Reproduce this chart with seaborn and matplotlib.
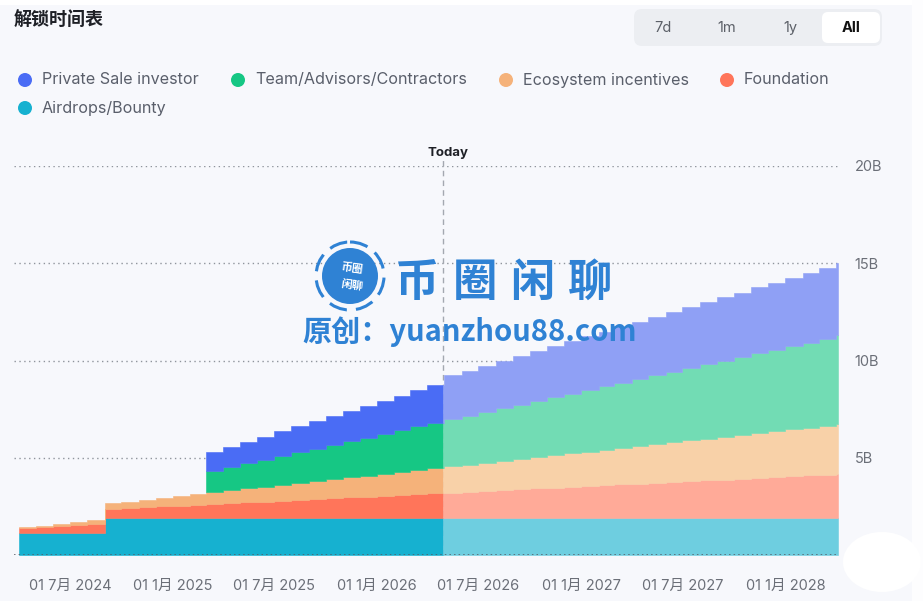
import numpy as np
import pandas as pd
import seaborn as sns
import matplotlib.pyplot as plt
import matplotlib.dates as mdates
from matplotlib.patches import Circle, Ellipse, FancyBboxPatch, Rectangle

# monthly unlock schedule (cumulative, billions), Apr 2024 .. Apr 2028
months = pd.date_range("2024-04-01", "2028-04-01", freq="MS")
today = pd.Timestamp("2026-04-28")
end_date = pd.Timestamp("2028-04-04")

airdrops = [1.12, 1.12, 1.12, 1.12, 1.12, 1.88, 1.88, 1.88, 1.88, 1.88,
            1.88, 1.88, 1.88, 1.88, 1.88, 1.88, 1.88, 1.88, 1.88, 1.88,
            1.88, 1.88, 1.88, 1.88, 1.88, 1.88, 1.88, 1.88, 1.88, 1.88,
            1.88, 1.88, 1.88, 1.88, 1.88, 1.88, 1.88, 1.88, 1.88, 1.88,
            1.88, 1.88, 1.88, 1.88, 1.88, 1.88, 1.88, 1.88, 1.88]
foundation = [0.28, 0.32, 0.36, 0.41, 0.45, 0.49, 0.53, 0.57, 0.62, 0.66,
              0.70, 0.74, 0.78, 0.83, 0.87, 0.91, 0.95, 0.99, 1.04, 1.08,
              1.12, 1.16, 1.20, 1.25, 1.29, 1.33, 1.37, 1.41, 1.46, 1.50,
              1.54, 1.58, 1.62, 1.67, 1.71, 1.75, 1.79, 1.83, 1.88, 1.92,
              1.96, 2.00, 2.04, 2.09, 2.13, 2.17, 2.21, 2.25, 2.30]
ecosystem = [0.02, 0.07, 0.13, 0.18, 0.23, 0.29, 0.34, 0.39, 0.44, 0.50,
             0.55, 0.60, 0.66, 0.71, 0.76, 0.82, 0.87, 0.92, 0.97, 1.03,
             1.08, 1.13, 1.19, 1.24, 1.29, 1.35, 1.40, 1.45, 1.50, 1.56,
             1.61, 1.66, 1.72, 1.77, 1.82, 1.88, 1.93, 1.98, 2.03, 2.09,
             2.14, 2.19, 2.25, 2.30, 2.35, 2.41, 2.46, 2.51, 2.56]
team = [0, 0, 0, 0, 0, 0, 0, 0, 0, 0,
        0, 1.12, 1.21, 1.31, 1.40, 1.49, 1.59, 1.68, 1.77, 1.86,
        1.96, 2.05, 2.14, 2.24, 2.33, 2.42, 2.51, 2.61, 2.70, 2.79,
        2.89, 2.98, 3.07, 3.17, 3.26, 3.35, 3.44, 3.54, 3.63, 3.72,
        3.82, 3.91, 4.00, 4.10, 4.19, 4.28, 4.37, 4.47, 4.56]
private_sale = [0, 0, 0, 0, 0, 0, 0, 0, 0, 0,
                0, 0.95, 1.03, 1.10, 1.18, 1.25, 1.33, 1.40, 1.48, 1.55,
                1.63, 1.70, 1.78, 1.85, 1.93, 2.25, 2.31, 2.38, 2.44, 2.50,
                2.57, 2.63, 2.69, 2.75, 2.82, 2.88, 2.94, 3.01, 3.07, 3.13,
                3.20, 3.26, 3.32, 3.39, 3.45, 3.51, 3.57, 3.64, 3.70]

names = ["Airdrops/Bounty", "Foundation", "Ecosystem incentives",
         "Team/Advisors/Contractors", "Private Sale investor"]
past_colors = ["#16b1d0", "#ff755a", "#f5b27a", "#16c784", "#4a6cf5"]
future_colors = ["#6ecee0", "#ffaa98", "#f8d1a8", "#72dcb4", "#8fa0f5"]

tick_dates = ["2024-07-01", "2025-01-01", "2025-07-01", "2026-01-01",
              "2026-07-01", "2027-01-01", "2027-07-01", "2028-01-01"]
tick_labels = ["01 7月 2024", "01 1月 2025", "01 7月 2025", "01 1月 2026",
               "01 7月 2026", "01 1月 2027", "01 7月 2027", "01 1月 2028"]

sns.set_theme(style="white")
plt.rcParams['font.family'] = ['Inter', 'Noto Sans CJK SC', 'DejaVu Sans']
bg = "#f7f8fc"

fig = plt.figure(figsize=(9.23, 6.01), dpi=100, facecolor=bg)
W, H = 923, 601
ax = fig.add_axes([14 / W, 1 - 555 / H, 824 / W, 389 / H])
ax.set_facecolor(bg)

vals = np.vstack([airdrops, foundation, ecosystem, team, private_sale])
tops = np.cumsum(vals, axis=0)
bots = tops - vals

xnum = mdates.date2num(months.to_pydatetime())
t_num = mdates.date2num(today.to_pydatetime())
e_num = mdates.date2num(end_date.to_pydatetime())
past = xnum <= t_num
x_past = np.append(xnum[past], t_num)
x_fut = np.concatenate([[t_num], xnum[~past], [e_num]])
last = np.where(past)[0][-1]

for k in range(len(names)):
    v = vals[k]
    # past part
    lo = np.append(bots[k][past], bots[k][last])
    hi = np.append(tops[k][past], tops[k][last])
    ok = np.append(v[past] > 0, v[last] > 0)
    ax.fill_between(x_past, lo, hi, where=ok, step='post', color=past_colors[k],
                    lw=0.4, edgecolor=past_colors[k], zorder=2)
    # future part
    lo = np.concatenate([[bots[k][last]], bots[k][~past], [bots[k][-1]]])
    hi = np.concatenate([[tops[k][last]], tops[k][~past], [tops[k][-1]]])
    ax.fill_between(x_fut, lo, hi, step='post', color=future_colors[k],
                    lw=0.4, edgecolor=future_colors[k], zorder=2)

for y in [5, 10, 15, 20]:
    ax.axhline(y, color="#8f949c", ls=(0, (1, 2.5)), lw=1, zorder=0)
ax.axhline(0, color="#555a63", ls=(0, (1, 2)), lw=1.1, zorder=4)
ax.axvline(t_num, ymin=0, ymax=1.02, color="#a4a8b0", ls=(0, (4, 3)),
           lw=1, zorder=1, clip_on=False)
ax.text(t_num + 10, 20.65, "Today", ha='center', va='center', fontsize=9.5,
        fontweight='bold', color="#1e2026")

ax.set_xlim(mdates.date2num(pd.Timestamp("2024-03-23")), e_num)
ax.set_ylim(0, 20)
ax.set_xticks(mdates.date2num(pd.to_datetime(tick_dates).to_pydatetime()))
ax.set_xticklabels(tick_labels)
ax.set_yticks([5, 10, 15, 20])
ax.set_yticklabels(["5B", "10B", "15B", "20B"])
ax.yaxis.tick_right()
ax.tick_params(axis='x', length=0, pad=17, labelsize=10.5, labelcolor="#6b6f78")
ax.tick_params(axis='y', length=0, pad=12, labelsize=10.5, labelcolor="#6b6f78")
sns.despine(ax=ax, left=True, bottom=True, right=True, top=True)
ax.grid(False)

# overlay in pixel coordinates for header, legend and watermark
ov = fig.add_axes([0, 0, 1, 1], zorder=5)
ov.set_xlim(0, W)
ov.set_ylim(H, 0)
ov.axis('off')
ov.patch.set_alpha(0)

ov.add_patch(Rectangle((0, 0), W, 5, color="white", lw=0))
ov.add_patch(Rectangle((912, 0), 11, H, color="#fdfdfe", lw=0))
ov.text(14, 21, "解锁时间表", fontsize=13, fontweight='bold', color="#1e2026",
        va='center', ha='left')

ov.add_patch(FancyBboxPatch((634, 9), 248, 37, boxstyle="round,pad=0,rounding_size=8",
                            fc="#eceef2", ec="none"))
ov.add_patch(FancyBboxPatch((822, 12), 58, 31, boxstyle="round,pad=0,rounding_size=6",
                            fc="white", ec="none"))
for lbl, xc in [("7d", 663), ("1m", 727), ("1y", 790)]:
    ov.text(xc, 28, lbl, fontsize=10.5, color="#5c6068", ha='center', va='center')
ov.text(851, 28, "All", fontsize=10.5, color="#111", fontweight='bold',
        ha='center', va='center')

leg = [(25, 80, 4), (238, 80, 3), (506, 80, 2), (727, 80, 1), (25, 108, 0)]
for cx, cy, k in leg:
    ov.add_patch(Circle((cx, cy), 7, color=past_colors[k], lw=0))
    ov.text(cx + 17, cy, names[k], fontsize=11.6, color="#5a5f6b", va='center', ha='left')

# watermark
wm = "#2f82d4"
ov.add_patch(Circle((350, 276), 28, color=wm, lw=0))
ov.add_patch(Circle((350, 276), 34, fill=False, ec=wm, lw=2.2, ls=(0, (6, 3))))
ov.text(352, 268, "币圈", fontsize=8, color="white", fontweight='bold',
        ha='center', va='center', rotation=-8)
ov.text(352, 285, "闲聊", fontsize=8, color="white", fontweight='bold',
        ha='center', va='center', rotation=-8)
for ch, xc in zip("币圈闲聊", [417, 475, 532, 590]):
    ov.text(xc, 283, ch, fontsize=32, color=wm, fontweight='bold',
            ha='center', va='center', family=['Noto Sans CJK SC'])
ov.text(302, 332, "原创：yuanzhou88.com", fontsize=21, color=wm, fontweight='bold',
        ha='left', va='center', family=['Noto Sans CJK SC', 'DejaVu Sans'])

ov.add_patch(Ellipse((882, 562), 78, 60, color="white", lw=0))

fig.savefig("out.png", dpi=100, facecolor=bg)
